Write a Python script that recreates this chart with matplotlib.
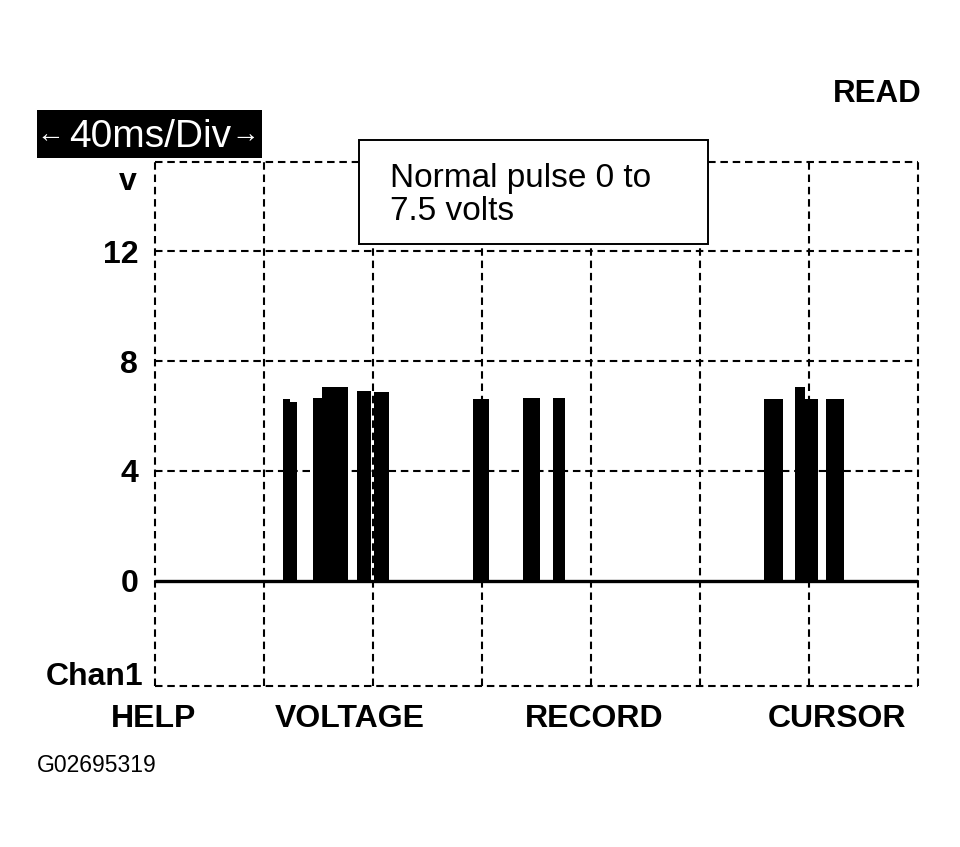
import matplotlib
matplotlib.use('Agg')
import matplotlib.pyplot as plt
from matplotlib.patches import Rectangle

plt.rcParams['font.family'] = ['Liberation Sans', 'DejaVu Sans']

# escala del osciloscopio
ms_por_div = 40
num_div = 7
y_ticks = [0, 4, 8, 12]
y_min, y_max = -3.84, 15.25

# pulsos (ms inicio, ms fin, voltios)
pulso_inicio = [47.0, 49.5, 58.0, 61.3, 74.1, 80.4, 116.7, 135.0, 146.1, 223.5, 234.9, 238.5, 246.2]
pulso_fin = [49.5, 52.1, 61.3, 70.8, 79.3, 85.9, 122.6, 141.3, 150.5, 230.5, 238.5, 243.3, 252.8]
pulso_voltios = [6.6, 6.5, 6.65, 7.05, 6.92, 6.88, 6.6, 6.67, 6.67, 6.63, 7.07, 6.63, 6.63]

botones = ['HELP', 'VOLTAGE', 'RECORD', 'CURSOR']
botones_x = [154, 350, 594, 837]

W, H = 960, 847


def fx(x):
    return x / W


def fy(y):
    return 1 - y / H


fig = plt.figure(figsize=(9.6, 8.47), dpi=100)
ax = fig.add_axes([fx(155), fy(686), (918 - 155) / W, (686 - 162) / H])

t_max = ms_por_div * num_div
ax.set_xlim(0, t_max)
ax.set_ylim(y_min, y_max)

# rejilla punteada (tambien hace de marco)
guion = (0, (3.6, 2.3))
for i in range(num_div + 1):
    ax.axvline(i * ms_por_div, color='black', lw=1.5, ls=guion, clip_on=False, zorder=1)
for v in [y_min, 4, 8, 12, y_max]:
    ax.axhline(v, color='black', lw=1.5, ls=guion, clip_on=False, zorder=1)

# pulsos
anchos = [f - i for i, f in zip(pulso_inicio, pulso_fin)]
ax.bar(pulso_inicio, pulso_voltios, width=anchos, align='edge', color='black', lw=0, zorder=3)
ax.plot([0, t_max], [0, 0], color='black', lw=2.4, solid_capstyle='butt', zorder=4)

for s in ax.spines.values():
    s.set_visible(False)
ax.set_xticks([])
ax.set_yticks(y_ticks)
ax.set_yticklabels([str(v) for v in y_ticks], fontsize=23, fontweight='bold')
ax.tick_params(axis='y', length=0, pad=12)

fig.text(fx(137), fy(182), 'v', fontsize=23, fontweight='bold', ha='right', va='center')
fig.text(fx(143), fy(685), 'Chan1', fontsize=23, fontweight='bold', ha='right', va='baseline')

for nombre, x in zip(botones, botones_x):
    fig.text(fx(x), fy(727), nombre, fontsize=23, fontweight='bold', ha='center', va='baseline')

fig.text(fx(922), fy(102), 'READ', fontsize=22.5, fontweight='bold', ha='right', va='baseline')

# etiqueta negra de la base de tiempo
fig.patches.append(Rectangle((fx(37), fy(158)), (262 - 37) / W, (158 - 110) / H,
                             transform=fig.transFigure, facecolor='black', edgecolor='none', zorder=5))
fig.text(fx(150), fy(147), '40ms/Div', fontsize=28, color='white',
         ha='center', va='baseline', zorder=6)
fig.text(fx(50), fy(135), '\u2190', fontsize=20, color='white', ha='center', va='center', zorder=6)
fig.text(fx(245), fy(135), '\u2192', fontsize=20, color='white', ha='center', va='center', zorder=6)

# recuadro de nota
fig.patches.append(Rectangle((fx(359), fy(244)), (708 - 359) / W, (244 - 140) / H,
                             transform=fig.transFigure, facecolor='white', edgecolor='black',
                             lw=1.4, zorder=5))
fig.text(fx(390), fy(187), 'Normal pulse 0 to', fontsize=24, ha='left', va='baseline', zorder=6)
fig.text(fx(390), fy(220), '7.5 volts', fontsize=24, ha='left', va='baseline', zorder=6)

fig.text(fx(37), fy(772), 'G02695319', fontsize=16.5, ha='left', va='baseline')

fig.savefig('out.png', dpi=100)
